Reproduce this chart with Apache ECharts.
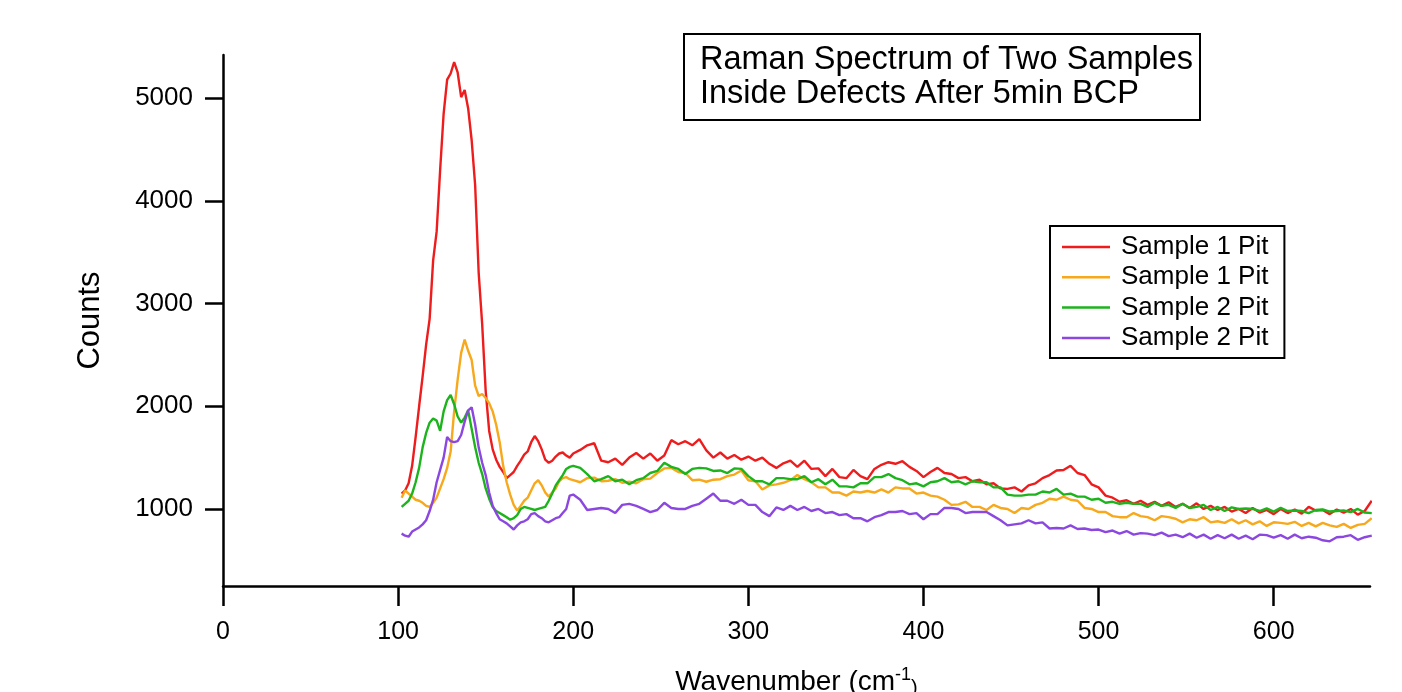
<!DOCTYPE html>
<html>
<head>
<meta charset="utf-8">
<title>Raman Spectrum</title>
<script src="https://cdn.jsdelivr.net/npm/echarts@6/dist/echarts.min.js"></script>
<style>
  html, body { margin: 0; padding: 0; background: #fff; }
  #main { width: 1402px; height: 692px; }
</style>
</head>
<body>
<div id="main"></div>
<script>
// wavenumber grid (cm-1): finer over the main peak, coarser after 200
var wavenumber = [
  102, 104, 106, 108, 110, 112, 114, 116, 118, 120, 122, 124, 126, 128, 130, 132, 134, 136, 138, 140,
  142, 144, 146, 148, 150, 152, 154, 156, 158, 160, 162, 164, 166, 168, 170, 172, 174, 176, 178, 180,
  182, 184, 186, 188, 190, 192, 194, 196, 198, 200,
  204, 208, 212, 216, 220, 224, 228, 232, 236, 240, 244, 248, 252, 256, 260, 264, 268, 272, 276, 280,
  284, 288, 292, 296, 300, 304, 308, 312, 316, 320, 324, 328, 332, 336, 340, 344, 348, 352, 356, 360,
  364, 368, 372, 376, 380, 384, 388, 392, 396, 400, 404, 408, 412, 416, 420, 424, 428, 432, 436, 440,
  444, 448, 452, 456, 460, 464, 468, 472, 476, 480, 484, 488, 492, 496, 500, 504, 508, 512, 516, 520,
  524, 528, 532, 536, 540, 544, 548, 552, 556, 560, 564, 568, 572, 576, 580, 584, 588, 592, 596, 600,
  604, 608, 612, 616, 620, 624, 628, 632, 636, 640, 644, 648, 652, 656
];

var sample1PitA = [
  1150, 1180, 1250, 1420, 1700, 2000, 2290, 2600, 2850, 3420, 3700, 4300, 4850, 5180, 5240, 5350, 5250, 5010, 5080, 4900,
  4590, 4150, 3300, 2800, 2150, 1760, 1580, 1480, 1410, 1360, 1300, 1330, 1360, 1420, 1470, 1530, 1560, 1650, 1710, 1660,
  1580, 1480, 1450, 1470, 1510, 1540, 1550, 1520, 1500, 1540,
  1575, 1620, 1640, 1470, 1455, 1490, 1430, 1500, 1545, 1490, 1540, 1470, 1520, 1670, 1630, 1660, 1620, 1680, 1570, 1500,
  1550, 1490, 1525, 1480, 1510, 1470, 1500, 1440, 1400, 1445, 1470, 1410, 1470, 1390, 1395, 1320, 1390, 1310, 1300, 1380,
  1320, 1290, 1390, 1430, 1455, 1440, 1465, 1410, 1370, 1310, 1360, 1400, 1350, 1340, 1300, 1310, 1270, 1285, 1240, 1250,
  1200, 1195, 1210, 1170, 1230, 1250, 1300, 1330, 1375, 1380, 1420, 1350, 1330, 1240, 1210, 1130, 1110, 1070, 1085, 1050,
  1080, 1040, 1070, 1030, 1065, 1020, 1050, 1010, 1055, 1000, 1030, 990, 1020, 975, 1000, 960, 1010, 965, 990, 950,
  1000, 960, 995, 955, 1020, 985, 990, 950, 995, 965, 1000, 945, 980, 1080
];

var sample1PitB = [
  1110, 1180, 1150, 1120, 1090, 1080, 1060, 1030, 1020, 1060, 1110, 1200, 1290, 1400, 1560, 1950, 2260, 2520, 2650, 2540,
  2450, 2200, 2100, 2120, 2080, 2030, 1950, 1820, 1650, 1420, 1260, 1140, 1040, 985, 1030, 1080, 1110, 1180, 1250, 1280,
  1230, 1160, 1120, 1160, 1200, 1270, 1300, 1310, 1290, 1280,
  1260, 1300, 1305, 1270, 1275, 1290, 1255, 1265, 1250, 1290, 1295, 1350, 1395, 1400, 1360, 1350, 1280, 1285, 1265, 1285,
  1290, 1320, 1335, 1375, 1280, 1270, 1190, 1230, 1240, 1255, 1280, 1330, 1290, 1260, 1210, 1210, 1160, 1160, 1130, 1170,
  1160, 1175, 1160, 1190, 1160, 1210, 1200, 1200, 1150, 1160, 1130, 1120, 1090, 1040, 1045, 1070, 1020, 1020, 990, 1040,
  1010, 1000, 960, 1010, 1000, 1040, 1060, 1100, 1090, 1120, 1090, 1080, 1010, 1000, 970, 970, 930, 920, 920, 960,
  930, 920, 890, 930, 920, 905, 870, 900, 890, 920, 870, 880, 865, 900, 860, 890, 850, 880, 835, 870,
  865, 855, 875, 835, 865, 830, 865, 840, 825, 855, 815, 845, 855, 910
];

var sample2PitA = [
  1020, 1050, 1080, 1150, 1260, 1400, 1600, 1740, 1840, 1880, 1860, 1760, 1950, 2060, 2110, 2020, 1900, 1840, 1890, 1960,
  1780, 1600, 1450, 1340, 1200, 1100, 1020, 980, 960, 940, 920, 895, 910, 940, 1000, 1020, 1010, 1000, 990, 1000,
  1010, 1020, 1080, 1150, 1230, 1280, 1330, 1390, 1410, 1420,
  1400, 1340, 1270, 1290, 1320, 1270, 1285, 1240, 1280, 1300, 1350, 1370, 1450, 1410, 1390, 1340, 1390, 1400, 1395, 1370,
  1375, 1350, 1395, 1390, 1320, 1270, 1270, 1240, 1300, 1300, 1290, 1290, 1320, 1260, 1290, 1240, 1285, 1220, 1220, 1210,
  1250, 1250, 1310, 1310, 1340, 1300, 1280, 1240, 1250, 1220, 1260, 1270, 1300, 1260, 1270, 1240, 1270, 1260, 1260, 1210,
  1210, 1140, 1130, 1130, 1140, 1140, 1170, 1160, 1195, 1140, 1150, 1120, 1120, 1090, 1100, 1060, 1070, 1050, 1060, 1050,
  1050, 1020, 1060, 1030, 1040, 1010, 1050, 1010, 1020, 1040, 990, 1020, 980, 1015, 1000, 1005, 1000, 980, 1005, 975,
  1010, 980, 985, 980, 960, 990, 995, 975, 980, 985, 970, 1000, 965, 960
];

var sample2PitB = [
  760, 740, 730, 780, 800, 820, 850, 890, 980, 1090, 1260, 1380, 1500, 1700, 1660, 1650, 1660, 1720, 1850, 1960,
  1990, 1820, 1600, 1450, 1330, 1160, 1030, 960, 900, 880, 860, 830, 800, 840, 870, 880, 900, 950, 960, 930,
  910, 880, 870, 890, 910, 920, 960, 1000, 1130, 1140,
  1090, 990, 1000, 1010, 1000, 960, 1040, 1050, 1030, 1000, 970, 990, 1060, 1010, 1000, 1000, 1030, 1050, 1100, 1150,
  1080, 1080, 1050, 1090, 1040, 1040, 970, 930, 1015, 990, 1030, 990, 1020, 980, 1000, 960, 970, 940, 950, 910,
  910, 880, 920, 940, 970, 970, 980, 950, 960, 900, 950, 950, 1010, 1010, 1000, 960, 970, 970, 970, 930,
  890, 840, 850, 860, 890, 860, 870, 810, 815, 810, 840, 805, 810, 795, 800, 775, 790, 760, 785, 750,
  765, 760, 745, 770, 735, 750, 725, 760, 720, 750, 710, 745, 715, 750, 710, 740, 705, 750, 745, 720,
  745, 710, 750, 715, 730, 720, 695, 685, 725, 730, 745, 700, 725, 740
];

var seriesNames = ['Sample 1 Pit', 'Sample 1 Pit ', 'Sample 2 Pit', 'Sample 2 Pit '];
var legendLabels = ['Sample 1 Pit', 'Sample 1 Pit', 'Sample 2 Pit', 'Sample 2 Pit'];
var seriesColors = ['#ee1c1c', '#f7a81b', '#1db31d', '#8b47e0'];
var xTicks = [0, 100, 200, 300, 400, 500, 600];
var yTicks = [1000, 2000, 3000, 4000, 5000];

var FONT = '"Liberation Sans", Arial, sans-serif';

function pairs(ys) {
  return wavenumber.map(function (x, i) { return [x, ys[i]]; });
}

var allSeries = [sample1PitA, sample1PitB, sample2PitA, sample2PitB].map(function (ys, i) {
  return {
    name: seriesNames[i],
    type: 'line',
    data: pairs(ys),
    showSymbol: false,
    symbol: 'none',
    lineStyle: { color: seriesColors[i], width: 2.4 },
    itemStyle: { color: seriesColors[i] }
  };
});

var chart = echarts.init(document.getElementById('main'));

var option = {
  animation: false,
  backgroundColor: '#fff',
  textStyle: { fontFamily: FONT },
  title: {
    text: 'Raman Spectrum of Two Samples\nInside Defects After 5min BCP',
    left: 684,
    top: 34,
    padding: [9, 7, 9, 16],
    borderColor: '#000',
    borderWidth: 2,
    textStyle: { fontFamily: FONT, fontSize: 32.5, lineHeight: 34, fontWeight: 'normal', color: '#000' }
  },
  legend: {
    orient: 'vertical',
    left: 1050,
    top: 226,
    padding: [8, 16, 7, 12],
    borderColor: '#000',
    borderWidth: 2,
    itemWidth: 48,
    itemHeight: 2.5,
    itemGap: 4.3,
    icon: 'rect',
    data: seriesNames,
    formatter: function (name) { return legendLabels[seriesNames.indexOf(name)]; },
    textStyle: { fontFamily: FONT, fontSize: 26, lineHeight: 26, color: '#000', padding: [0, 0, 0, 6] }
  },
  grid: { left: 223, right: 32, top: 55, bottom: 106, containLabel: false, outerBoundsMode: 'none' },
  xAxis: {
    type: 'value',
    min: 0,
    max: 655,
    name: '{a|Wavenumber (cm}{sup|-1}{b|)}',
    nameLocation: 'middle',
    nameGap: 80,
    nameTextStyle: {
      color: '#000',
      rich: {
        a: { fontFamily: FONT, fontSize: 28, color: '#000' },
        sup: { fontFamily: FONT, fontSize: 18, color: '#000', verticalAlign: 'top', padding: [0, 0, 14, 0] },
        b: { fontFamily: FONT, fontSize: 20, color: '#000', verticalAlign: 'bottom' }
      }
    },
    splitLine: { show: false },
    axisLine: { show: true, onZero: false, lineStyle: { color: '#000', width: 2.5 } },
    axisTick: { show: true, inside: false, length: 20, customValues: xTicks, lineStyle: { color: '#000', width: 2.5 } },
    axisLabel: { show: true, margin: 34, customValues: xTicks, fontFamily: FONT, fontSize: 25, color: '#000',
      formatter: function (v) { return String(v); } }
  },
  yAxis: {
    type: 'value',
    min: 250,
    max: 5420,
    name: 'Counts',
    nameLocation: 'middle',
    nameGap: 117,
    nameTextStyle: { fontFamily: FONT, fontSize: 31, color: '#000' },
    splitLine: { show: false },
    axisLine: { show: true, onZero: false, lineStyle: { color: '#000', width: 2.5 } },
    axisTick: { show: true, inside: false, length: 18, customValues: yTicks, lineStyle: { color: '#000', width: 2.5 } },
    axisLabel: { show: true, margin: 30, customValues: yTicks, fontFamily: FONT, fontSize: 26, color: '#000',
      formatter: function (v) { return String(v); } }
  },
  series: allSeries
};

option && chart.setOption(option);
</script>
</body>
</html>
